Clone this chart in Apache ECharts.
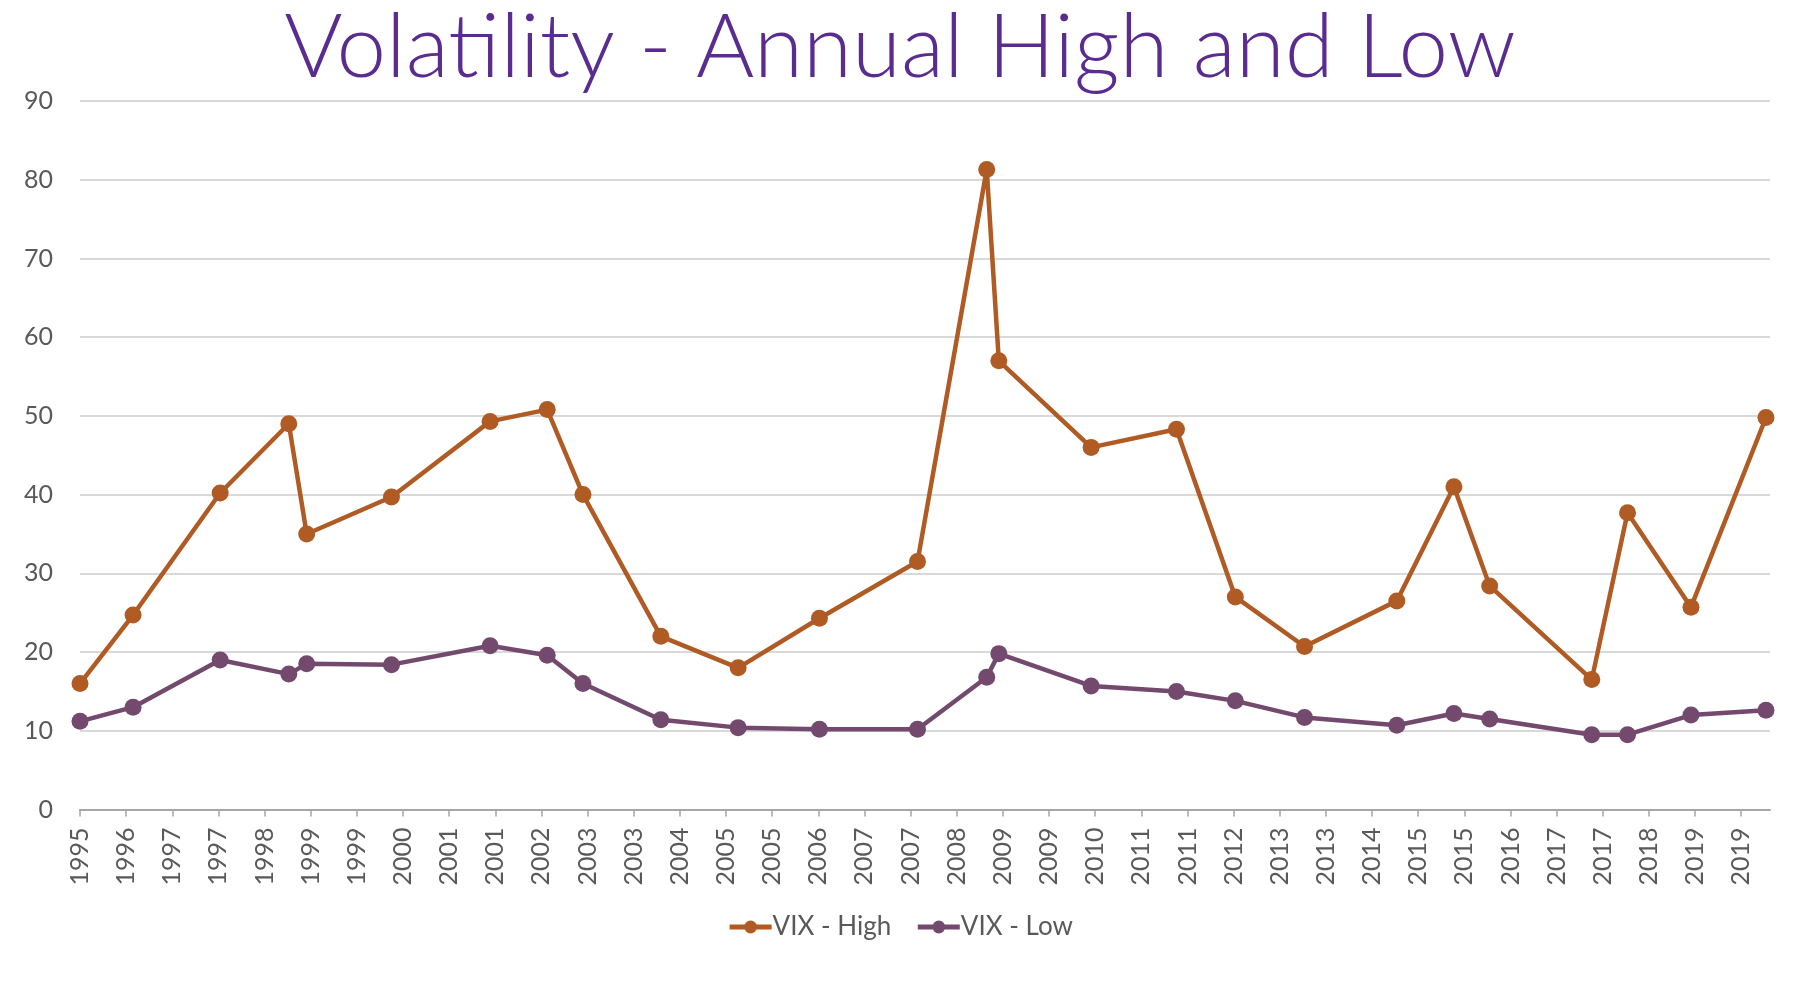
<!DOCTYPE html>
<html>
<head>
<meta charset="utf-8">
<script src="https://cdn.jsdelivr.net/npm/echarts@6/dist/echarts.min.js"></script>
<style>
  html, body { margin: 0; padding: 0; background: #ffffff; }
  #chart { width: 1800px; height: 982px; }
</style>
</head>
<body>
<div id="chart"></div>
<script>
// ---- data ----
const titleText = 'Volatility - Annual High and Low';
const seriesNames = ['VIX - High', 'VIX - Low'];
const dates = [
  '1995-09-01', '1996-06-07', '1997-09-10', '1998-09-07', '1998-12-10',
  '2000-03-01', '2001-08-04', '2002-06-01', '2002-12-07', '2004-01-22',
  '2005-03-04', '2006-05-07', '2007-10-07', '2008-10-07', '2008-12-10',
  '2010-04-10', '2011-07-04', '2012-05-10', '2013-05-10', '2014-09-10',
  '2015-07-07', '2016-01-13', '2017-07-04', '2018-01-10', '2018-12-10',
  '2020-01-10'
];
const vixHigh = [
  16.0, 24.7, 40.2, 49.0, 35.0, 39.7, 49.3, 50.8, 40.0, 22.0,
  18.0, 24.3, 31.5, 81.3, 57.0, 46.0, 48.3, 27.0, 20.7, 26.5,
  41.0, 28.4, 16.5, 37.7, 25.7, 49.8
];
const vixLow = [
  11.2, 13.0, 19.0, 17.2, 18.5, 18.4, 20.8, 19.6, 16.0, 11.4,
  10.4, 10.2, 10.2, 16.8, 19.8, 15.7, 15.0, 13.8, 11.7, 10.7,
  12.2, 11.5, 9.5, 9.5, 12.0, 12.6
];
// x-axis tick labels (every 8 months, starting Sep 1995)
const tickLabels = [
  '1995','1996','1997','1997','1998','1999','1999','2000','2001','2001',
  '2002','2003','2003','2004','2005','2005','2006','2007','2007','2008',
  '2009','2009','2010','2011','2011','2012','2013','2013','2014','2015',
  '2015','2016','2017','2017','2018','2019','2019'
];
const yTicks = [0, 10, 20, 30, 40, 50, 60, 70, 80, 90];

// ---- helpers ----
// months since Jan 1995 (fractional)
function toMonth(s) {
  const p = s.split('-').map(Number);
  return (p[0] - 1995) * 12 + (p[1] - 1) + (p[2] - 1) / 30;
}
const xMin = 8, xStep = 8, xMax = 301;
const tickValues = tickLabels.map((_, i) => xMin + i * xStep);

const highData = dates.map((d, i) => [toMonth(d), vixHigh[i]]);
const lowData = dates.map((d, i) => [toMonth(d), vixLow[i]]);

const FONT = 'Lato, "Open Sans", sans-serif';
const GRAY = '#595959';
const colHigh = '#B05A24';
const colLow = '#734A6E';

const chart = echarts.init(document.getElementById('chart'), null, { renderer: 'canvas' });
chart.setOption({
  animation: false,
  backgroundColor: '#ffffff',
  title: {
    text: titleText,
    left: 'center',
    top: -1,
    textStyle: { fontFamily: FONT, fontSize: 89, fontWeight: 300, color: '#5B2C8F' }
  },
  legend: {
    data: seriesNames,
    left: 'center',
    top: 909,
    itemWidth: 42,
    itemHeight: 16,
    itemGap: 24,
    lineStyle: { width: 5 },
    textStyle: { fontFamily: FONT, fontSize: 26, color: GRAY, padding: [0, 0, 0, -4] }
  },
  grid: { left: 80, right: 30, top: 101, bottom: 172.5, containLabel: false },
  xAxis: {
    type: 'value',
    min: xMin,
    max: xMax,
    splitLine: { show: false },
    axisLine: { show: true, lineStyle: { color: '#A6A6A6', width: 2 } },
    axisTick: { show: true, length: 7, lineStyle: { color: '#A6A6A6', width: 1.5 }, customValues: tickValues },
    axisLabel: {
      customValues: tickValues,
      rotate: 90,
      margin: 18,
      fontFamily: FONT,
      fontSize: 25,
      color: GRAY,
      formatter: function (v) {
        const i = Math.round((v - xMin) / xStep);
        return tickLabels[i] !== undefined ? tickLabels[i] : '';
      }
    }
  },
  yAxis: {
    type: 'value',
    min: yTicks[0],
    max: yTicks[yTicks.length - 1],
    interval: 10,
    axisLine: { show: false },
    axisTick: { show: false },
    splitLine: { lineStyle: { color: '#D9D9D9', width: 2 } },
    axisLabel: { margin: 27, fontFamily: FONT, fontSize: 25, color: GRAY }
  },
  series: [
    {
      name: seriesNames[0],
      type: 'line',
      data: highData,
      symbol: 'circle',
      symbolSize: 17,
      color: colHigh,
      lineStyle: { color: colHigh, width: 4.5 },
      itemStyle: { color: colHigh }
    },
    {
      name: seriesNames[1],
      type: 'line',
      data: lowData,
      symbol: 'circle',
      symbolSize: 17,
      color: colLow,
      lineStyle: { color: colLow, width: 4.5 },
      itemStyle: { color: colLow }
    }
  ]
});
</script>
</body>
</html>
